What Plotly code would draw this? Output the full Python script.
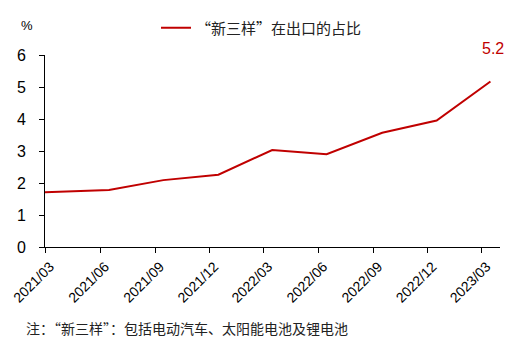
import plotly.graph_objects as go

dates = ["2021-03-01", "2021-06-16", "2021-09-15", "2021-12-16", "2022-03-16",
         "2022-06-15", "2022-09-16", "2022-12-16", "2023-03-16"]
values = [1.71, 1.78, 2.09, 2.26, 3.03, 2.90, 3.57, 3.95, 5.17]
tick_vals = ["2021-03-01", "2021-06-01", "2021-09-01", "2021-12-01", "2022-03-01",
             "2022-06-01", "2022-09-01", "2022-12-01", "2023-03-01"]
tick_text = ["2021/03", "2021/06", "2021/09", "2021/12", "2022/03",
             "2022/06", "2022/09", "2022/12", "2023/03"]
series_name = "“新三样”在出口的占比"
last_label = "5.2"
note = "注：“新三样”：包括电动汽车、太阳能电池及锂电池"

RED = "#C00000"
NUM_FONT = "Liberation Sans, Arial, sans-serif"
CJK_FONT = "Noto Sans CJK SC, sans-serif"

# plot area (page coords): x 45..500, y 55..247 ; page has 8px body offset
OFF = 8
L, R, T, B = 45 - OFF, 500 - OFF, 55 - OFF, 247 - OFF
PW, PH = R - L, B - T

fig = go.Figure()
fig.add_trace(go.Scatter(x=dates, y=values, mode="lines", name=series_name,
                         line=dict(color=RED, width=2), showlegend=True))

fig.add_annotation(x=dates[-1], y=values[-1], text=last_label, showarrow=False,
                   xref="x", yref="y", yshift=33, xshift=3,
                   font=dict(family=NUM_FONT, size=16, color=RED))
fig.add_annotation(x=(27 - 45) / PW, y=(247 - 26) / PH, xref="paper", yref="paper",
                   text="%", showarrow=False, xanchor="center", yanchor="middle",
                   font=dict(family=NUM_FONT, size=13, color="#000"))
fig.add_annotation(x=(24 - 45) / PW, y=(247 - 328) / PH, xref="paper", yref="paper",
                   text=note, showarrow=False, xanchor="left", yanchor="middle",
                   font=dict(family=CJK_FONT, size=14, color="#222"))

fig.update_layout(
    width=516, height=360,
    margin=dict(l=L, r=516 - R, t=T, b=360 - B, autoexpand=False),
    paper_bgcolor="white", plot_bgcolor="white",
    showlegend=True,
    legend=dict(orientation="h", x=(156 - 45) / PW, y=(247 - 28) / PH,
                xanchor="left", yanchor="middle", bgcolor="rgba(0,0,0,0)",
                font=dict(family=CJK_FONT, size=15, color="#222")),
    xaxis=dict(type="date", range=["2021-03-01", "2023-04-01"], automargin=False,
               tickmode="array", tickvals=tick_vals, ticktext=tick_text,
               tickangle=-45, ticks="outside", ticklen=5, tickcolor="#000",
               showline=True, linecolor="#000", linewidth=1, showgrid=False,
               zeroline=False, ticklabeloverflow="allow", ticklabelshift=5,
               tickfont=dict(family=NUM_FONT, size=14, color="#000")),
    yaxis=dict(range=[0, 6], dtick=1, ticks="outside", ticklen=5, tickcolor="#000",
               showline=True, linecolor="#000", linewidth=1, showgrid=False,
               zeroline=False, automargin=False, ticklabelstandoff=10,
               tickfont=dict(family=NUM_FONT, size=16, color="#000")),
)

fig.write_html("out.html")
